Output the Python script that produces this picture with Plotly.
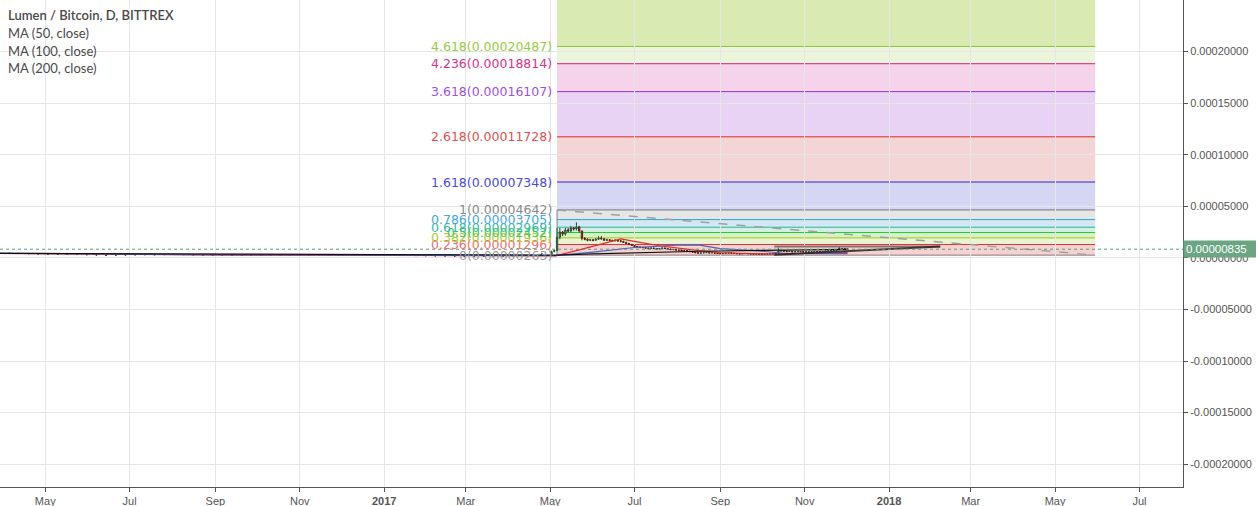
import plotly.graph_objects as go
import pandas as pd

SAT = 1e-8  # values below are in satoshi

# ---------------- price data (weekly before the rally, 2-day during it) -------------
pre_start = "2016-03-29"
pre_open = [420, 430, 440, 420, 400, 380, 360, 340, 330, 320, 300, 280, 260, 270, 290, 300, 310, 300, 320, 330,
            310, 290, 280, 260, 250, 240, 230, 250, 270, 260, 250, 240, 230, 240, 250, 260, 280, 290, 280, 270,
            250, 230, 240, 230, 220, 210, 200, 190, 180, 170, 160, 170, 180, 190, 220, 260, 280, 380]
pre_high = [460, 480, 470, 440, 420, 400, 380, 370, 350, 340, 320, 300, 290, 310, 320, 340, 330, 350, 360, 350,
            330, 310, 300, 280, 270, 260, 270, 290, 290, 280, 270, 260, 260, 270, 280, 300, 320, 310, 300, 290,
            270, 260, 260, 250, 240, 230, 220, 210, 200, 190, 190, 200, 210, 240, 290, 320, 430, 700]
pre_low = [400, 410, 400, 380, 360, 340, 320, 310, 300, 280, 260, 240, 240, 250, 270, 280, 280, 280, 300, 290,
           270, 260, 240, 230, 220, 210, 210, 230, 240, 230, 220, 210, 210, 220, 230, 240, 260, 260, 250, 230,
           210, 210, 210, 200, 190, 180, 170, 160, 150, 140, 140, 150, 160, 170, 200, 240, 260, 350]
pre_close = [430, 440, 420, 400, 380, 360, 340, 330, 320, 300, 280, 260, 270, 290, 300, 310, 300, 320, 330, 310,
             290, 280, 260, 250, 240, 230, 250, 270, 260, 250, 240, 230, 240, 250, 260, 280, 290, 280, 270, 250,
             230, 240, 230, 220, 210, 200, 190, 180, 170, 160, 170, 180, 190, 220, 260, 280, 380, 600]

act_start = "2017-05-04"
act_open = [600, 700, 2000, 2500, 2300, 2700, 2600, 2900, 2800, 3000,
            2600, 1900, 1800, 1700, 1750, 1700, 1800, 1900, 1850, 1700,
            1750, 1700, 1650, 1700, 1650, 1600, 1500, 1400, 1300, 1200,
            1100, 1050, 1000, 1000, 950, 900, 950, 900, 850, 900,
            950, 900, 850, 800, 800, 750, 750, 700, 700, 650,
            600, 550, 500, 450, 480, 500, 520, 480, 500, 460,
            420, 400, 420, 450, 480, 450, 420, 400, 380, 420,
            430, 400, 380, 370, 380, 360, 350, 360, 380, 400,
            420, 450, 650, 700, 650, 600, 620, 580, 600, 620,
            600, 580, 560, 580, 600, 620, 600, 580, 620, 650,
            680, 700, 720, 780, 900, 880, 850]
act_high = [750, 2900, 2900, 2600, 2900, 2900, 3100, 3000, 3450, 3100,
            2650, 2000, 1900, 1850, 1800, 1900, 2100, 2100, 1900, 1850,
            1800, 1750, 1800, 1750, 1700, 1650, 1550, 1450, 1350, 1250,
            1150, 1100, 1080, 1050, 1000, 1000, 1000, 950, 950, 1000,
            1000, 950, 900, 850, 850, 800, 800, 760, 740, 700,
            640, 580, 540, 520, 540, 560, 560, 540, 540, 500,
            460, 450, 480, 520, 510, 480, 450, 430, 450, 470,
            460, 420, 410, 410, 400, 390, 390, 410, 430, 450,
            480, 1000, 780, 740, 680, 660, 650, 640, 660, 650,
            640, 610, 620, 640, 660, 650, 630, 660, 690, 720,
            740, 760, 830, 1050, 960, 920, 880]
act_low = [560, 650, 1800, 2100, 2150, 2450, 2450, 2650, 2650, 2450,
           1700, 1700, 1600, 1650, 1600, 1650, 1750, 1750, 1650, 1650,
           1600, 1550, 1600, 1550, 1500, 1450, 1350, 1250, 1150, 1050,
           1000, 950, 940, 900, 850, 850, 850, 800, 820, 860,
           850, 800, 760, 750, 700, 700, 650, 650, 600, 560,
           500, 460, 420, 420, 450, 470, 450, 450, 430, 390,
           370, 380, 400, 430, 420, 390, 370, 350, 360, 400,
           370, 350, 340, 340, 330, 320, 330, 340, 370, 390,
           410, 440, 600, 600, 560, 560, 540, 560, 580, 560,
           540, 520, 540, 560, 580, 560, 540, 560, 600, 630,
           660, 680, 700, 760, 820, 800, 800]
act_close = [700, 2000, 2500, 2300, 2700, 2600, 2900, 2800, 3000, 2600,
             1900, 1800, 1700, 1750, 1700, 1800, 1900, 1850, 1700, 1750,
             1700, 1650, 1700, 1650, 1600, 1500, 1400, 1300, 1200, 1100,
             1050, 1000, 1000, 950, 900, 950, 900, 850, 900, 950,
             900, 850, 800, 800, 750, 750, 700, 700, 650, 600,
             550, 500, 450, 480, 500, 520, 480, 500, 460, 420,
             400, 420, 450, 480, 450, 420, 400, 380, 420, 430,
             400, 380, 370, 380, 360, 350, 360, 380, 400, 420,
             450, 650, 700, 650, 600, 620, 580, 600, 620, 600,
             580, 560, 580, 600, 620, 600, 580, 620, 650, 680,
             700, 720, 780, 900, 880, 850, 835]
last_price = 835

# ---------------- moving averages ----------------
ma50_dates = ["2016-03-29", "2016-05-01", "2016-06-15", "2016-08-01", "2016-09-15", "2016-11-01", "2016-12-15",
              "2017-02-01", "2017-03-15", "2017-05-05", "2017-05-20", "2017-06-01", "2017-06-10", "2017-06-21",
              "2017-07-06", "2017-07-20", "2017-08-12", "2017-08-31", "2017-09-20", "2017-10-11", "2017-11-01",
              "2017-11-20", "2017-12-02"]
ma50_vals = [420, 380, 300, 300, 270, 250, 265, 230, 180, 200, 700, 1150, 1500, 1840, 1480, 1150, 775, 520, 420,
             370, 420, 440, 500]
ma100_dates = ["2016-03-29", "2016-06-01", "2016-08-15", "2016-11-01", "2017-01-15", "2017-03-15", "2017-05-05",
               "2017-06-01", "2017-07-01", "2017-08-01", "2017-08-16", "2017-09-01", "2017-09-28", "2017-10-19",
               "2017-12-02"]
ma100_vals = [460, 380, 310, 275, 260, 220, 210, 550, 1000, 1230, 1260, 900, 680, 420, 400]
ma200_dates = ["2016-03-29", "2016-07-01", "2016-10-01", "2017-01-01", "2017-04-01", "2017-05-05", "2017-06-01",
               "2017-07-06", "2017-08-18", "2017-10-01", "2017-11-01", "2017-12-02"]
ma200_vals = [440, 380, 330, 320, 280, 270, 380, 520, 640, 720, 780, 820]

# ---------------- Fibonacci extension drawing ----------------
fib_start, fib_end = "2017-05-06", "2018-05-30"
fib_ratios = ["0", "0.236", "0.382", "0.5", "0.618", "0.786", "1", "1.618", "2.618", "3.618", "4.236", "4.618"]
fib_prices = [263, 1296, 1936, 2452, 2969, 3705, 4642, 7348, 11728, 16107, 18814, 20487]
fib_line_colors = ["#8a7a7a", "#dd3333", "#99cc00", "#22cc22", "#22b5a0", "#2e9fd0", "#7a7a7a",
                   "#2b2bc8", "#dd2222", "#9030d0", "#d81b78", "#8cc43c"]
fib_text_colors = ["#9a9a9a", "#ef6f6f", "#b0cc33", "#44cc44", "#33bba5", "#45a8e0", "#8a8a8a",
                   "#4848e0", "#e05050", "#a050e0", "#e0308a", "#98cc40"]
fib_fills = [None, "#f5d2d2", "#eaf4d5", "#d8f0d2", "#d3eee3", "#d4e8f4", "#e6e6e6",
             "#d4d6f3", "#f4d5d5", "#e8d3f4", "#f5d3ea", "#ebf5dc"]
fib_top_fill = "#d9ebb3"
fib_top_extent = 30000

# user drawings (triangle)
tri_x = ["2017-10-10", "2018-02-07"]
tri_top = [1094, 1094]
tri_bottom = [290, 1094]

# ---------------- axes ----------------
x_range = ["2016-03-29 07:00", "2018-08-01 12:00"]
x_tickvals = ["2016-05-01", "2016-07-01", "2016-09-01", "2016-11-01", "2017-01-01", "2017-03-01", "2017-05-01",
              "2017-07-01", "2017-09-01", "2017-11-01", "2018-01-01", "2018-03-01", "2018-05-01", "2018-07-01"]
x_ticktext = ["May", "Jul", "Sep", "Nov", "<b>2017</b>", "Mar", "May", "Jul", "Sep", "Nov", "<b>2018</b>",
              "Mar", "May", "Jul"]
y_range = [-0.00022208, 0.00024988]
y_tickvals = [-0.0002, -0.00015, -0.0001, -0.00005, 0.0, 0.00005, 0.0001, 0.00015, 0.0002]
y_ticktext = ["-0.00020000", "-0.00015000", "-0.00010000", "-0.00005000", "0.00000000",
              "0.00005000", "0.00010000", "0.00015000", "0.00020000"]

legend_lines = ["Lumen / Bitcoin, D, BITTREX", "MA (50, close)", "MA (100, close)", "MA (200, close)"]


def btc(vals):
    return [v * SAT for v in vals]


fig = go.Figure()

candle_style = dict(
    increasing=dict(fillcolor="#6ba583", line=dict(color="#225437", width=1)),
    decreasing=dict(fillcolor="#d75442", line=dict(color="#5b1a13", width=1)),
    whiskerwidth=0, hoverinfo="skip", showlegend=False,
)
fig.add_trace(go.Candlestick(x=pd.date_range(pre_start, periods=len(pre_close), freq="7D"),
                             open=btc(pre_open), high=btc(pre_high), low=btc(pre_low), close=btc(pre_close),
                             **candle_style))
fig.add_trace(go.Candlestick(x=pd.date_range(act_start, periods=len(act_close), freq="2D"),
                             open=btc(act_open), high=btc(act_high), low=btc(act_low), close=btc(act_close),
                             **candle_style))

for d, v, c in [(ma50_dates, ma50_vals, "#e8262a"), (ma100_dates, ma100_vals, "#4f63c2"),
                (ma200_dates, ma200_vals, "#111111")]:
    fig.add_trace(go.Scatter(x=d, y=btc(v), mode="lines", line=dict(color=c, width=1.2),
                             hoverinfo="skip", showlegend=False))

shapes = []
# fills
for i in range(1, len(fib_prices)):
    shapes.append(dict(type="rect", xref="x", yref="y", x0=fib_start, x1=fib_end,
                       y0=fib_prices[i - 1] * SAT, y1=fib_prices[i] * SAT,
                       fillcolor=fib_fills[i], line=dict(width=0), layer="below"))
shapes.append(dict(type="rect", xref="x", yref="y", x0=fib_start, x1=fib_end,
                   y0=fib_prices[-1] * SAT, y1=fib_top_extent * SAT,
                   fillcolor=fib_top_fill, line=dict(width=0), layer="below"))
# left border of the drawing
shapes.append(dict(type="line", xref="x", yref="y", x0=fib_start, x1=fib_start,
                   y0=fib_prices[0] * SAT, y1=fib_prices[6] * SAT,
                   line=dict(color="#808080", width=1), layer="below"))
# level lines
for p, c in zip(fib_prices, fib_line_colors):
    shapes.append(dict(type="line", xref="x", yref="y", x0=fib_start, x1=fib_end, y0=p * SAT, y1=p * SAT,
                       line=dict(color=c, width=1), layer="below"))
# trend line of the drawing
shapes.append(dict(type="line", xref="x", yref="y", x0=fib_start, x1=fib_end,
                   y0=fib_prices[6] * SAT, y1=fib_prices[0] * SAT,
                   line=dict(color="#a0a0a0", width=1.5, dash="dash"), layer="above"))
# triangle drawing
shapes.append(dict(type="line", xref="x", yref="y", x0=tri_x[0], x1=tri_x[1],
                   y0=tri_top[0] * SAT, y1=tri_top[1] * SAT,
                   line=dict(color="rgba(110,85,85,0.8)", width=2), layer="above"))
shapes.append(dict(type="line", xref="x", yref="y", x0=tri_x[0], x1=tri_x[1],
                   y0=tri_bottom[0] * SAT, y1=tri_bottom[1] * SAT,
                   line=dict(color="rgba(40,30,30,0.85)", width=2), layer="above"))
# last price line
shapes.append(dict(type="line", xref="paper", yref="y", x0=0, x1=1, y0=last_price * SAT, y1=last_price * SAT,
                   line=dict(color="#5e9a78", width=1, dash="dot"), layer="above"))

annotations = []
for r, p, c in zip(fib_ratios, fib_prices, fib_text_colors):
    annotations.append(dict(xref="x", yref="y", x=fib_start, y=p * SAT, xanchor="right", yanchor="middle",
                            xshift=-3, showarrow=False, text=f"{r}({p * SAT:.8f})",
                            font=dict(family="DejaVu Sans", size=12.5, color=c)))
for i, t in enumerate(legend_lines):
    annotations.append(dict(xref="paper", yref="paper", x=0, y=1, xanchor="left", yanchor="middle",
                            xshift=6, yshift=[-15, -33, -51, -68][i], showarrow=False, text=t,
                            font=dict(family="Lato", size=13, color="#4a4a4a",
                                      weight=600 if i == 0 else 400)))
annotations.append(dict(xref="paper", yref="y", x=1, y=last_price * SAT, xanchor="left", yanchor="middle",
                        showarrow=False, text=f"{last_price * SAT:.8f}", bgcolor="#6ba583",
                        borderpad=2, width=68, align="left", xshift=0,
                        font=dict(family="Liberation Sans", size=11.5, color="white")))

fig.update_layout(
    width=1256, height=506,
    margin=dict(l=0, r=73, t=0, b=19),
    plot_bgcolor="white", paper_bgcolor="white",
    showlegend=False, hovermode=False,
    shapes=shapes, annotations=annotations,
    xaxis=dict(type="date", range=x_range, tickvals=x_tickvals, ticktext=x_ticktext,
               showgrid=True, gridcolor="#e6e6e6", gridwidth=1, zeroline=False,
               showline=True, linecolor="#555555", linewidth=1,
               ticks="outside", ticklen=4, tickcolor="#555555",
               tickfont=dict(family="Liberation Sans", size=11, color="#555555"),
               rangeslider=dict(visible=False), automargin=False, fixedrange=True),
    yaxis=dict(side="right", range=y_range, tickvals=y_tickvals, ticktext=y_ticktext,
               showgrid=True, gridcolor="#e6e6e6", gridwidth=1, zeroline=False,
               showline=True, linecolor="#555555", linewidth=1,
               ticks="outside", ticklen=4, tickcolor="#555555",
               tickfont=dict(family="Liberation Sans", size=11, color="#555555"),
               automargin=False, fixedrange=True),
)

fig.write_html("out.html", config={"displayModeBar": False},
               post_script="document.body.style.margin='0px';document.body.style.overflow='hidden';")
